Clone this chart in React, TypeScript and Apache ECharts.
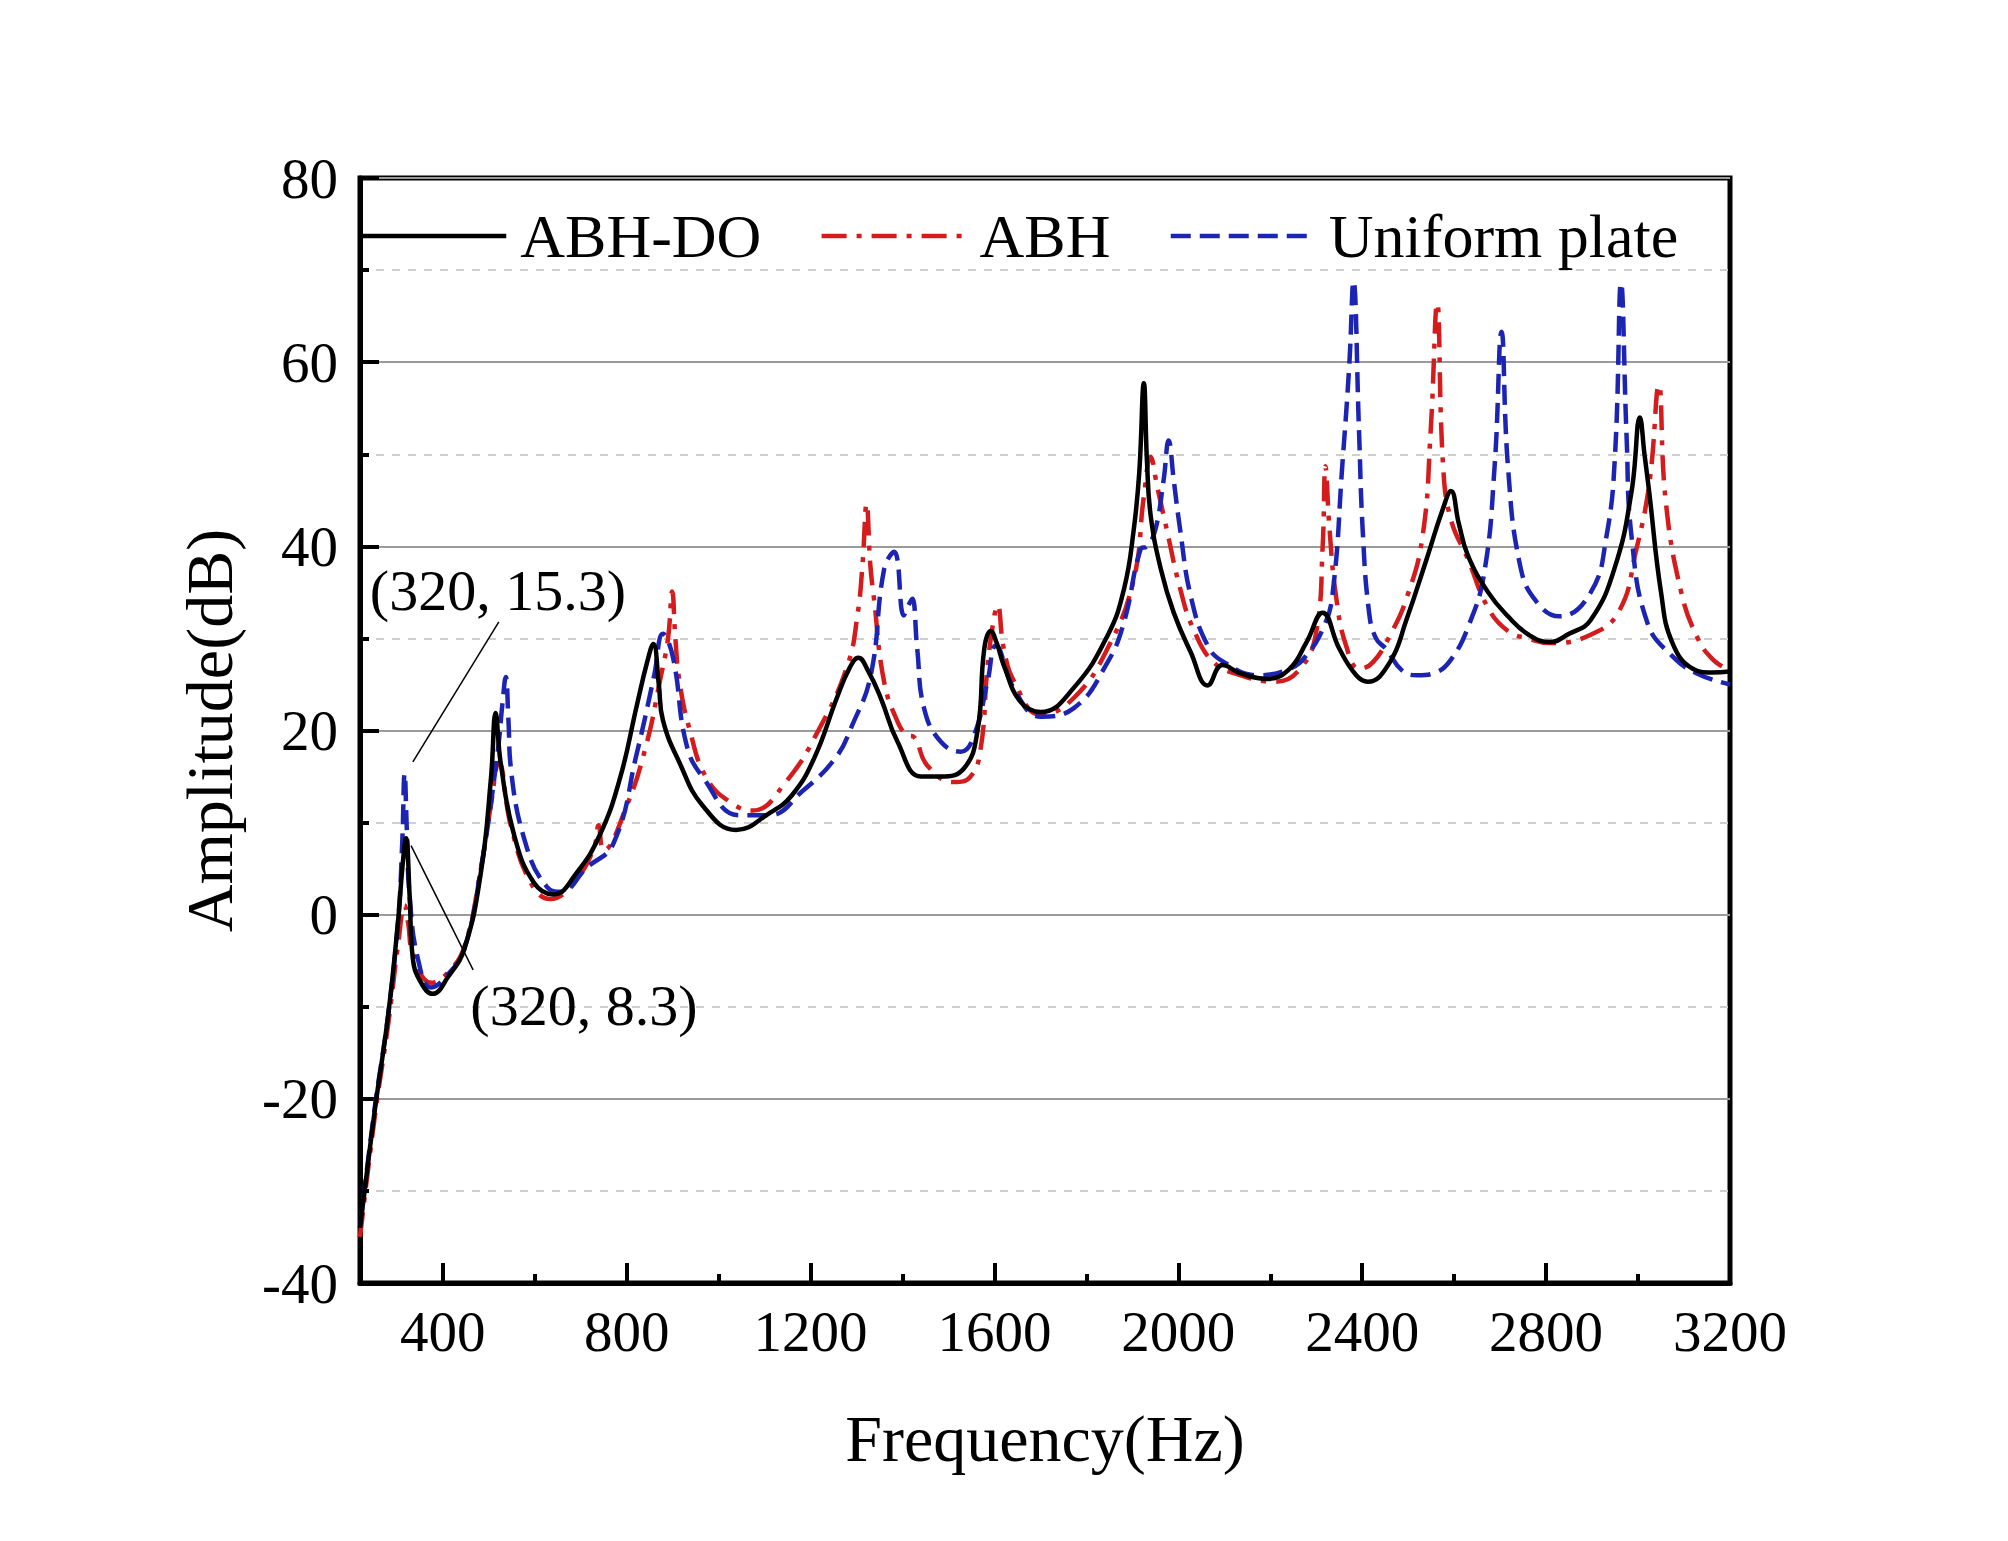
import React, { useEffect, useRef } from "react";
import * as echarts from "echarts";

// ---------- data ----------
const seriesNames = ["ABH-DO", "ABH", "Uniform plate"];

const freqABHDO = [220, 252, 281, 303, 312, 320, 328, 335, 353, 378, 411, 447, 483, 505, 515, 526, 555, 598, 641, 692, 742, 786, 822, 845, 858, 870, 879, 915, 966, 1038, 1110, 1160, 1208, 1257, 1285, 1304, 1325, 1353, 1389, 1440, 1483, 1534, 1563, 1578, 1592, 1605, 1621, 1657, 1701, 1772, 1846, 1882, 1903, 1915, 1925, 1932, 1940, 1962, 1990, 2027, 2064, 2096, 2136, 2193, 2242, 2279, 2314, 2350, 2387, 2412, 2460, 2496, 2540, 2575, 2593, 2610, 2630, 2674, 2717, 2762, 2808, 2850, 2897, 2950, 2986, 3004, 3014, 3024, 3050, 3074, 3119, 3160, 3200];
const ampABHDO = [-34, -21.3, -11, -0.6, 5, 8.3, 2, -4.8, -7.4, -8.6, -6.8, -3.7, 4.6, 14.9, 21.9, 16.5, 8.7, 3.5, 2.2, 4.6, 8.7, 14.9, 22.7, 27.5, 29.4, 25, 21.1, 16.5, 11.8, 9.2, 11, 13, 17, 23.5, 26.8, 27.9, 26.5, 23.5, 18.8, 15, 15, 15.9, 19.9, 28.9, 30.8, 29.5, 27, 23.1, 22, 24.6, 30.3, 35.4, 41.8, 48, 57.7, 49, 43.3, 37.5, 32.8, 28.5, 24.9, 27.1, 26.2, 25.6, 26.7, 29.6, 32.8, 28.9, 26, 25.3, 27.4, 32, 38.6, 44, 46, 42.5, 39, 35, 32.4, 30.4, 29.6, 30.5, 32, 37.8, 46, 54, 50, 46, 35, 29.6, 26.7, 26.3, 26.4];

const freqABH = [220, 252, 281, 303, 317, 325, 335, 375, 411, 447, 483, 505, 522, 548, 591, 634, 685, 728, 739, 750, 800, 843, 872, 890, 899, 906, 915, 937, 973, 1023, 1074, 1146, 1218, 1280, 1302, 1313, 1322, 1330, 1338, 1360, 1389, 1410, 1425, 1454, 1512, 1548, 1570, 1585, 1600, 1607, 1620, 1643, 1701, 1772, 1846, 1903, 1925, 1940, 1954, 1975, 2004, 2033, 2077, 2136, 2208, 2265, 2301, 2314, 2320, 2329, 2343, 2365, 2394, 2423, 2460, 2496, 2531, 2549, 2563, 2576, 2593, 2630, 2674, 2717, 2760, 2808, 2897, 2959, 2995, 3025, 3045, 3060, 3094, 3130, 3163, 3200];
const ampABH = [-35, -22, -12, -3.2, 1, -1, -4.2, -7.4, -6.3, -3.5, 5, 12, 16.5, 9.7, 3.5, 1.7, 3.5, 7.1, 9.7, 7, 11.8, 18.5, 25.3, 30, 35.1, 30, 25.3, 20.1, 14.9, 12.3, 11.3, 14.4, 20.1, 27, 32.5, 38, 44.6, 38, 34.3, 25.3, 21, 19.5, 19.3, 16.2, 14.4, 15, 18, 27, 32.5, 33.6, 29, 25.3, 21.7, 23.5, 28.9, 36.4, 45.4, 49.7, 46.5, 41.8, 35.4, 31, 27.4, 26, 25.3, 26.7, 31, 40, 48.7, 41.8, 34.6, 29.2, 26.7, 27.4, 30.3, 34.3, 41, 52.6, 66.4, 48.7, 42.9, 38.6, 33.3, 30.8, 30, 29.5, 30.4, 33, 39.4, 47, 57.5, 45, 35, 30, 27.7, 26.5];

const freqUniform = [220, 252, 281, 303, 312, 317, 322, 328, 346, 375, 411, 447, 483, 519, 530, 537, 543, 548, 584, 627, 656, 713, 771, 822, 860, 879, 901, 930, 966, 1045, 1110, 1182, 1254, 1290, 1331, 1360, 1382, 1403, 1412, 1421, 1432, 1447, 1483, 1527, 1556, 1585, 1603, 1643, 1701, 1772, 1846, 1882, 1918, 1932, 1950, 1968, 1979, 1990, 2004, 2027, 2064, 2100, 2172, 2242, 2279, 2314, 2335, 2357, 2372, 2381, 2393, 2401, 2415, 2430, 2451, 2487, 2520, 2560, 2593, 2630, 2665, 2688, 2703, 2717, 2744, 2779, 2829, 2897, 2931, 2950, 2963, 2975, 2986, 3021, 3074, 3128, 3200];
const ampUniform = [-34, -21, -11, -0.6, 8, 15.3, 9, 2, -4.8, -7.9, -6.5, -3.7, 5, 17.5, 23, 25.8, 21, 16, 7.1, 3, 2.5, 5.1, 7.7, 17.5, 26, 30.5, 27.9, 18.5, 14.9, 10.8, 10.8, 13.4, 17, 20.5, 26, 37.5, 39.4, 32.5, 33.5, 34.3, 28.9, 22.4, 18.8, 17.7, 19.5, 25.3, 29.2, 24.5, 21.5, 22.4, 27.4, 31.8, 39.7, 40, 41.8, 47.2, 51.5, 47.2, 41.8, 34.6, 29.2, 27.4, 26, 26.7, 28.2, 31, 34.6, 49, 59.8, 68.8, 52.6, 41.8, 32.8, 30, 28.9, 26.5, 26, 26.3, 27.7, 31.2, 37, 48.7, 63.3, 48.7, 37.8, 34, 32.4, 35, 41, 50, 68.6, 52, 41, 31.6, 28.1, 26.2, 25];

// axis ticks / labels
const xMin = 220;
const xMax = 3200;
const xMajorTicks = [400, 800, 1200, 1600, 2000, 2400, 2800, 3200];
const xMinorTicks = [600, 1000, 1400, 1800, 2200, 2600, 3000];
const yMin = -40;
const yMax = 80;
const yInterval = 20;

// annotations (data coordinates)
const annoTexts = ["(320, 15.3)", "(320, 8.3)"];
const annoTextPos = [
  [520, 35.2],
  [707, -9.9],
];
const annoLeaders = [
  [[335, 16.6], [522, 31.8]],
  [[331, 7.5], [466, -6]],
];

const FONT = "'Liberation Serif', 'Times New Roman', Times, serif";
const BLACK = "#000000";
const RED = "#d41c1c";
const BLUE = "#1c24b4";

const zip = (xs: number[], ys: number[]) => xs.map((x, i) => [x, ys[i]]);

export default function App() {
  const ref = useRef<HTMLDivElement>(null);
  useEffect(() => {
    const chart = echarts.init(ref.current!, null, { renderer: "svg" });
    const option: any = {
      animation: false,
      backgroundColor: "#ffffff",
      grid: {
        left: 360,
        top: 178,
        right: 278,
        bottom: 258,
        show: true,
        borderColor: "#000",
        borderWidth: 5,
        backgroundColor: "transparent",
      },
      legend: {
        left: 360,
        top: 205,
        padding: 0,
        itemWidth: 144,
        itemHeight: 4,
        itemGap: 58,
        data: seriesNames,
        itemStyle: { opacity: 0 },
        lineStyle: { width: 4.5 },
        textStyle: {
          fontFamily: FONT,
          fontSize: 62,
          color: "#000",
          padding: [0, 0, 0, 9],
        },
      },
      xAxis: [
        {
          type: "value",
          min: xMin,
          max: xMax,
          name: "Frequency(Hz)",
          nameLocation: "middle",
          nameGap: 122,
          nameTextStyle: { fontFamily: FONT, fontSize: 66, color: "#000" },
          axisLine: { show: true, onZero: false, lineStyle: { color: "#000", width: 5 } },
          axisTick: {
            show: true,
            inside: true,
            length: 20,
            customValues: xMajorTicks,
            lineStyle: { color: "#000", width: 4 },
          },
          axisLabel: {
            show: true,
            customValues: xMajorTicks,
            formatter: (v: number) => String(v),
            margin: 20,
            fontFamily: FONT,
            fontSize: 57,
            color: "#000",
          },
          splitLine: { show: false },
        },
        {
          type: "value",
          min: xMin,
          max: xMax,
          position: "bottom",
          axisLine: { show: false, onZero: false },
          axisTick: {
            show: true,
            inside: true,
            length: 9,
            customValues: xMinorTicks,
            lineStyle: { color: "#000", width: 4 },
          },
          axisLabel: { show: false },
          splitLine: { show: false },
        },
      ],
      yAxis: {
        type: "value",
        min: yMin,
        max: yMax,
        interval: yInterval,
        name: "Amplitude(dB)",
        nameLocation: "middle",
        nameGap: 118,
        nameTextStyle: { fontFamily: FONT, fontSize: 66, color: "#000" },
        axisLine: { show: true, onZero: false, lineStyle: { color: "#000", width: 5 } },
        axisTick: { show: true, inside: true, length: 19, lineStyle: { color: "#000", width: 4 } },
        minorTick: { show: true, splitNumber: 2, length: 9, lineStyle: { color: "#000", width: 4 } },
        axisLabel: { margin: 22, fontFamily: FONT, fontSize: 57, color: "#000" },
        splitLine: { show: true, lineStyle: { color: "#9a9a9a", width: 2 } },
        minorSplitLine: { show: true, lineStyle: { color: "#cfcfcf", width: 2, type: [8, 8] } },
      },
      series: [
        {
          name: seriesNames[0],
          type: "line",
          data: zip(freqABHDO, ampABHDO),
          showSymbol: false,
          symbol: "none",
          smooth: 0.45,
          z: 4,
          lineStyle: { color: BLACK, width: 4.5, type: "solid" },
          itemStyle: { color: BLACK },
        },
        {
          name: seriesNames[1],
          type: "line",
          data: zip(freqABH, ampABH),
          showSymbol: false,
          symbol: "none",
          smooth: 0.45,
          z: 3,
          lineStyle: { color: RED, width: 4.5, type: [25, 10, 5, 10] },
          itemStyle: { color: RED },
        },
        {
          name: seriesNames[2],
          type: "line",
          data: zip(freqUniform, ampUniform),
          showSymbol: false,
          symbol: "none",
          smooth: 0.45,
          z: 3,
          lineStyle: { color: BLUE, width: 4.5, type: [20, 9] },
          itemStyle: { color: BLUE },
          markLine: {
            silent: true,
            symbol: "none",
            label: { show: false },
            lineStyle: { color: "#000", width: 1.5, type: "solid" },
            data: annoLeaders.map((seg) => [{ coord: seg[0] }, { coord: seg[1] }]),
          },
          markPoint: {
            silent: true,
            symbol: "circle",
            symbolSize: 0,
            itemStyle: { color: "transparent" },
            label: {
              show: true,
              position: "inside",
              fontFamily: FONT,
              fontSize: 58,
              color: "#000",
            },
            data: annoTexts.map((t, i) => ({
              coord: annoTextPos[i],
              value: t,
              label: { formatter: t },
            })),
          },
        },
      ],
    };
    chart.setOption(option);
    return () => chart.dispose();
  }, []);
  return (
    <div
      ref={ref}
      style={{ position: "absolute", left: 0, top: 0, width: 2008, height: 1541, background: "#fff" }}
    />
  );
}
